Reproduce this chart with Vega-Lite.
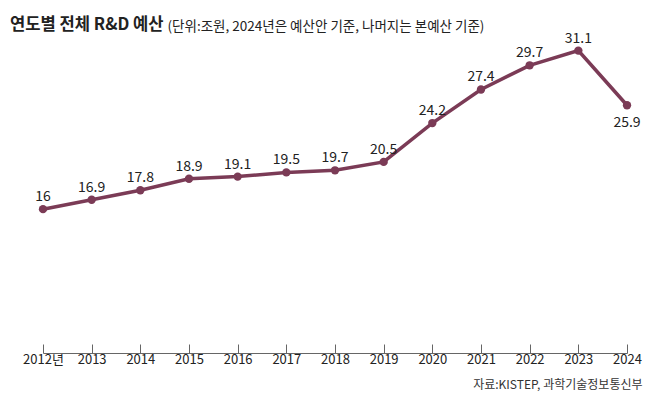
{
  "$schema": "https://vega.github.io/schema/vega-lite/v6.json",
  "autosize": {"type": "none"},
  "width": 584,
  "height": 328,
  "padding": {"left": 43, "top": 25, "right": 31, "bottom": 46},
  "background": "white",
  "config": {
    "font": "Noto Sans CJK KR",
    "view": {"stroke": null}
  },
  "title": {
    "text": "연도별 전체 R&D 예산",
    "anchor": "start",
    "frame": "group",
    "fontSize": 16.6,
    "fontWeight": "bold",
    "color": "#222222",
    "baseline": "alphabetic",
    "offset": 0,
    "dx": -33,
    "dy": 28
  },
  "data": {
    "values": [
      {"year": "2012년", "value": 16},
      {"year": "2013", "value": 16.9},
      {"year": "2014", "value": 17.8},
      {"year": "2015", "value": 18.9},
      {"year": "2016", "value": 19.1},
      {"year": "2017", "value": 19.5},
      {"year": "2018", "value": 19.7},
      {"year": "2019", "value": 20.5},
      {"year": "2020", "value": 24.2},
      {"year": "2021", "value": 27.4},
      {"year": "2022", "value": 29.7},
      {"year": "2023", "value": 31.1},
      {"year": "2024", "value": 25.9}
    ]
  },
  "encoding": {
    "x": {
      "field": "year",
      "type": "ordinal",
      "sort": null,
      "scale": {"type": "point", "padding": 0},
      "axis": {
        "title": "자료:KISTEP, 과학기술정보통신부",
        "titleFontSize": 12,
        "titleFontWeight": "normal",
        "titleColor": "#333333",
        "titleAlign": "right",
        "titleAnchor": "end",
        "titleBaseline": "alphabetic",
        "titleX": 599,
        "titleY": 35,
        "labelAngle": 0,
        "labelFontSize": 13,
        "labelColor": "#222222",
        "labelPadding": 9,
        "labelBaseline": "top",
        "domainColor": "#666666",
        "tickColor": "#666666",
        "tickSize": -9,
        "tickWidth": 1,
        "domainWidth": 1,
        "grid": false
      }
    },
    "y": {
      "field": "value",
      "type": "quantitative",
      "scale": {"domain": [2.3, 33.54], "nice": false, "zero": false},
      "axis": {
        "title": "(단위:조원, 2024년은 예산안 기준, 나머지는 본예산 기준)",
        "titleAngle": 0,
        "titleAlign": "left",
        "titleBaseline": "alphabetic",
        "titleFontSize": 13.5,
        "titleFontWeight": "normal",
        "titleColor": "#222222",
        "titleX": 124,
        "titleY": 5,
        "labels": false,
        "ticks": false,
        "domain": false,
        "grid": false
      }
    }
  },
  "layer": [
    {
      "mark": {"type": "line", "color": "#7b3b56", "strokeWidth": 3.5}
    },
    {
      "mark": {"type": "point", "filled": true, "opacity": 1, "color": "#7b3b56", "size": 70}
    },
    {
      "transform": [{"filter": "datum.year != '2024'"}],
      "mark": {"type": "text", "dy": -8, "baseline": "alphabetic", "fontSize": 14, "color": "#222222"},
      "encoding": {"text": {"field": "value", "type": "quantitative"}}
    },
    {
      "transform": [{"filter": "datum.year == '2024'"}],
      "mark": {"type": "text", "dy": 22, "baseline": "alphabetic", "fontSize": 14, "color": "#222222"},
      "encoding": {"text": {"field": "value", "type": "quantitative"}}
    }
  ]
}
